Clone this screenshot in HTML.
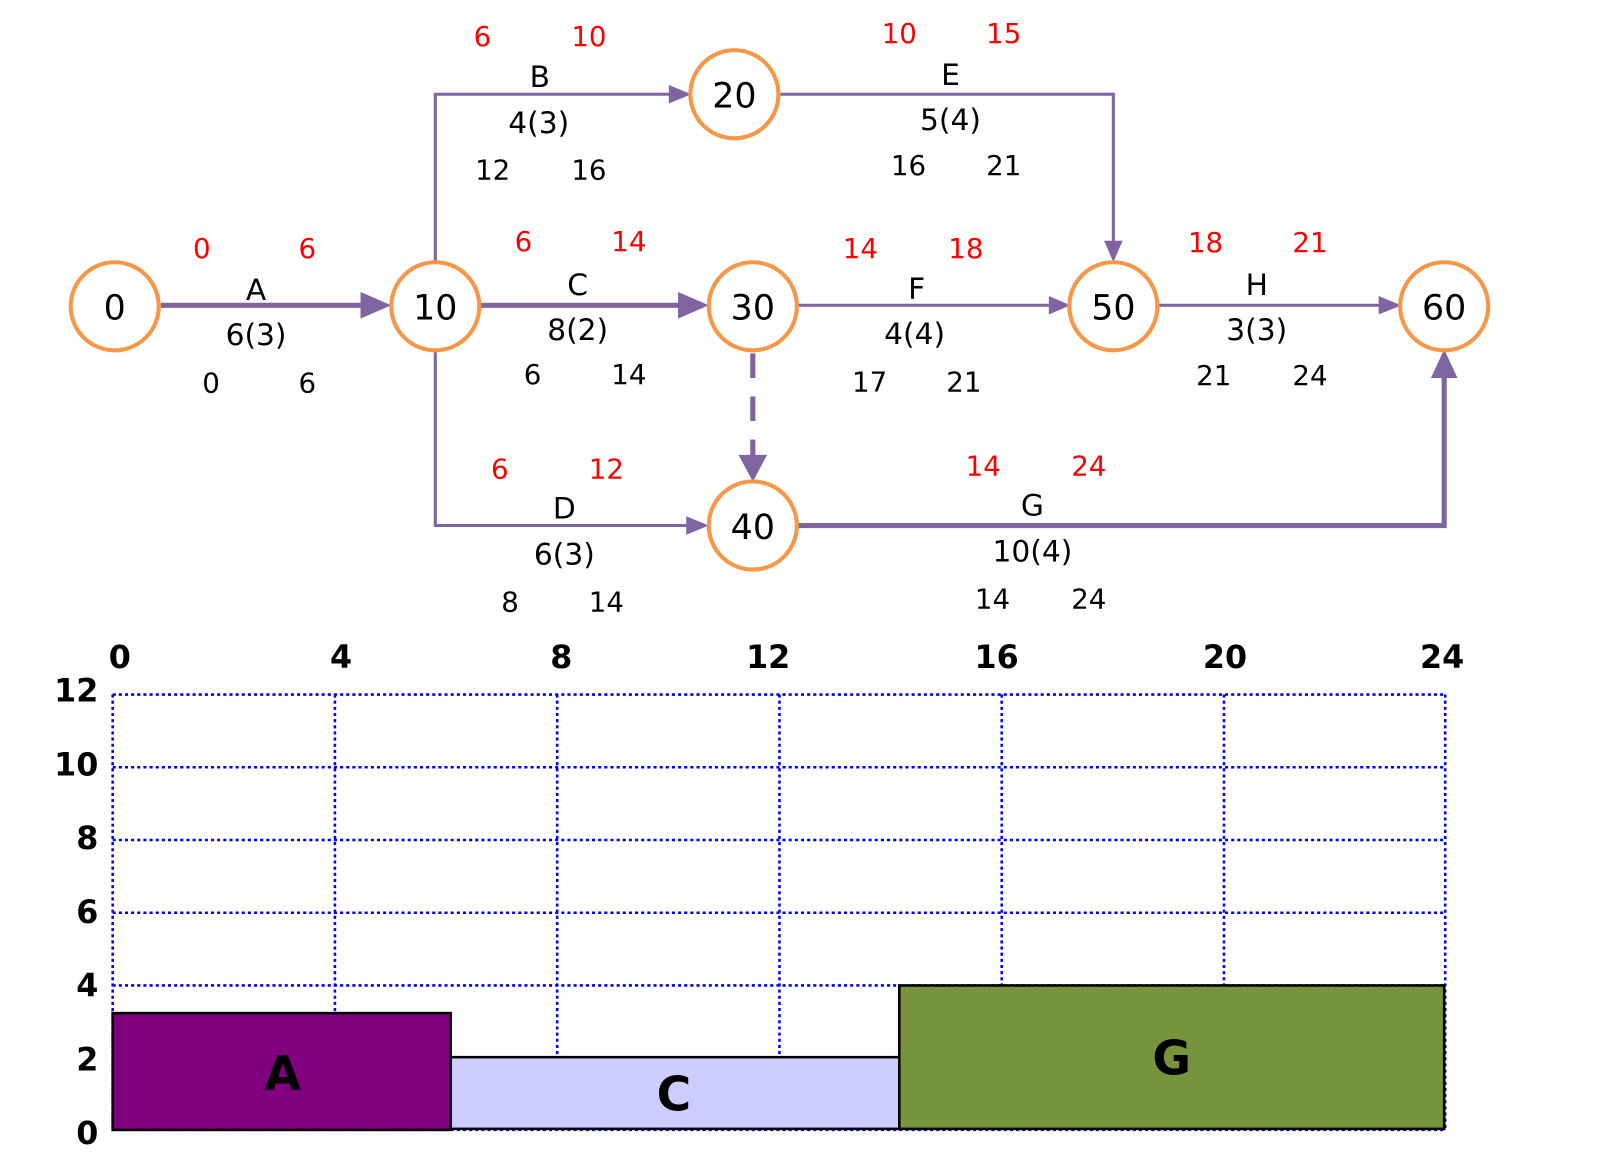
<!DOCTYPE html>
<html><head><meta charset="utf-8"><style>
html,body{margin:0;padding:0;background:#fff;width:1605px;height:1176px;overflow:hidden}
svg{display:block}
text{font-family:"DejaVu Sans","Liberation Sans",sans-serif}
.n{font-size:34px;text-anchor:middle;fill:#000}
.l{font-size:29px;text-anchor:middle;fill:#000}
.s{font-size:27px;text-anchor:middle;fill:#000}
.r{font-size:27px;text-anchor:middle;fill:#f00}
.ax{font-size:31px;font-weight:bold;text-anchor:middle;fill:#000}
.ay{font-size:31px;font-weight:bold;text-anchor:end;fill:#000}
</style></head><body>
<svg width="1605" height="1176" viewBox="0 0 1567 1148" preserveAspectRatio="none" xmlns="http://www.w3.org/2000/svg">
<g stroke="#8064a2" fill="none">
<line x1="157" y1="298" x2="358" y2="298" stroke-width="5"/>
<polyline points="425,257 425,92 655,92" stroke-width="3"/>
<line x1="468" y1="298" x2="668" y2="298" stroke-width="5"/>
<polyline points="425,343 425,513 672,513" stroke-width="3"/>
<polyline points="762,92 1087,92 1087,237" stroke-width="3"/>
<line x1="779" y1="298" x2="1026" y2="298" stroke-width="3"/>
<line x1="1131" y1="298" x2="1350" y2="298" stroke-width="3"/>
<line x1="735" y1="345" x2="735" y2="448" stroke-width="5" stroke-dasharray="24,18"/>
<polyline points="779,513 1410,513 1410,365" stroke-width="5"/>
</g>
<g fill="#8064a2">
<polygon points="352,285 382,298 352,311"/>
<polygon points="653,83 675,92 653,101"/>
<polygon points="662,285 692,298 662,311"/>
<polygon points="670,504 692,513 670,522"/>
<polygon points="1078,235 1087,256 1096,235"/>
<polygon points="1024,289 1045,298 1024,307"/>
<polygon points="1346,289 1368,298 1346,307"/>
<polygon points="721,444 735,470 749,444"/>
<polygon points="1397,369 1410,341 1423,369"/>
</g>
<g fill="#fff" stroke="#f79646" stroke-width="4">
<circle cx="112" cy="299" r="43"/>
<circle cx="425" cy="299" r="43"/>
<circle cx="717" cy="92" r="43"/>
<circle cx="735" cy="299" r="43"/>
<circle cx="735" cy="513" r="43"/>
<circle cx="1087" cy="299" r="43"/>
<circle cx="1410" cy="299" r="43"/>
</g>
<text class="n" x="112" y="312">0</text>
<text class="n" x="425" y="312">10</text>
<text class="n" x="717" y="105">20</text>
<text class="n" x="735" y="312">30</text>
<text class="n" x="735" y="526">40</text>
<text class="n" x="1087" y="312">50</text>
<text class="n" x="1410" y="312">60</text>

<text class="r" x="197" y="252">0</text><text class="r" x="300" y="252">6</text>
<text class="l" x="250" y="293">A</text><text class="l" x="250" y="337">6(3)</text>
<text class="s" x="206" y="383">0</text><text class="s" x="300" y="383">6</text>

<text class="r" x="471" y="45">6</text><text class="r" x="575" y="45">10</text>
<text class="l" x="527" y="85">B</text><text class="l" x="526" y="130">4(3)</text>
<text class="s" x="481" y="175">12</text><text class="s" x="575" y="175">16</text>

<text class="r" x="878" y="42">10</text><text class="r" x="980" y="42">15</text>
<text class="l" x="928" y="83">E</text><text class="l" x="928" y="127">5(4)</text>
<text class="s" x="887" y="171">16</text><text class="s" x="980" y="171">21</text>

<text class="r" x="511" y="245">6</text><text class="r" x="614" y="245">14</text>
<text class="l" x="564" y="288">C</text><text class="l" x="564" y="332">8(2)</text>
<text class="s" x="520" y="375">6</text><text class="s" x="614" y="375">14</text>

<text class="r" x="840" y="252">14</text><text class="r" x="943" y="252">18</text>
<text class="l" x="895" y="292">F</text><text class="l" x="893" y="336">4(4)</text>
<text class="s" x="849" y="382">17</text><text class="s" x="941" y="382">21</text>

<text class="r" x="1177" y="246">18</text><text class="r" x="1279" y="246">21</text>
<text class="l" x="1227" y="288">H</text><text class="l" x="1227" y="332">3(3)</text>
<text class="s" x="1185" y="376">21</text><text class="s" x="1279" y="376">24</text>

<text class="r" x="488" y="467">6</text><text class="r" x="592" y="467">12</text>
<text class="l" x="551" y="506">D</text><text class="l" x="551" y="551">6(3)</text>
<text class="s" x="498" y="597">8</text><text class="s" x="592" y="597">14</text>

<text class="r" x="960" y="464">14</text><text class="r" x="1063" y="464">24</text>
<text class="l" x="1008" y="503">G</text><text class="l" x="1008" y="548">10(4)</text>
<text class="s" x="969" y="594">14</text><text class="s" x="1063" y="594">24</text>

<g stroke="#0000ff" stroke-width="2.5" stroke-dasharray="3,3" fill="none">
<line x1="110" y1="678" x2="1411" y2="678"/>
<line x1="110" y1="749" x2="1411" y2="749"/>
<line x1="110" y1="820" x2="1411" y2="820"/>
<line x1="110" y1="891" x2="1411" y2="891"/>
<line x1="110" y1="962" x2="1411" y2="962"/>
<line x1="110" y1="1103" x2="1411" y2="1103"/>
<line x1="110" y1="678" x2="110" y2="1103"/>
<line x1="327" y1="678" x2="327" y2="1103"/>
<line x1="544" y1="678" x2="544" y2="1103"/>
<line x1="761" y1="678" x2="761" y2="1103"/>
<line x1="978" y1="678" x2="978" y2="1103"/>
<line x1="1195" y1="678" x2="1195" y2="1103"/>
<line x1="1411" y1="678" x2="1411" y2="1103"/>
</g>
<rect x="110" y="989" width="330" height="114" fill="#800080" stroke="#000" stroke-width="2.5"/>
<rect x="440" y="1032" width="438" height="70" fill="#ccccff" stroke="#000" stroke-width="2.5"/>
<rect x="878" y="962" width="532" height="140" fill="#77933c" stroke="#000" stroke-width="2.5"/>
<text class="ax" x="276" y="1064" style="font-size:46px">A</text>
<text class="ax" x="658" y="1084" style="font-size:46px">C</text>
<text class="ax" x="1144" y="1049" style="font-size:46px">G</text>

<text class="ax" x="117" y="652">0</text><text class="ax" x="333" y="652">4</text>
<text class="ax" x="548" y="652">8</text><text class="ax" x="750" y="652">12</text>
<text class="ax" x="973" y="652">16</text><text class="ax" x="1196" y="652">20</text>
<text class="ax" x="1408" y="652">24</text>
<text class="ay" x="96" y="685">12</text><text class="ay" x="96" y="757">10</text>
<text class="ay" x="96" y="829">8</text><text class="ay" x="96" y="901">6</text>
<text class="ay" x="96" y="973">4</text><text class="ay" x="96" y="1045">2</text>
<text class="ay" x="96" y="1117">0</text>
</svg>
</body></html>
